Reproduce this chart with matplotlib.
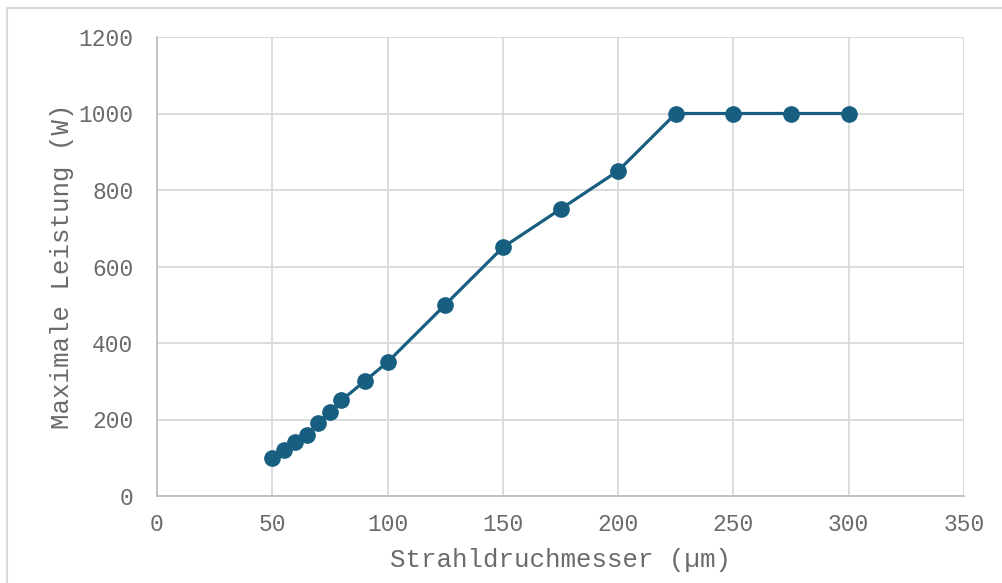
import matplotlib.pyplot as plt
from matplotlib.patches import Rectangle

# Strahldurchmesser (um) and maximale Leistung (W)
durchmesser = [50, 55, 60, 65, 70, 75, 80, 90, 100, 125, 150, 175, 200, 225, 250, 275, 300]
leistung = [100, 120, 140, 160, 190, 220, 250, 300, 350, 500, 650, 750, 850, 1000, 1000, 1000, 1000]

x_ticks = [0, 50, 100, 150, 200, 250, 300, 350]
y_ticks = [0, 200, 400, 600, 800, 1000, 1200]

plt.rcParams['font.family'] = ['Liberation Mono', 'DejaVu Sans']

fig = plt.figure(figsize=(10.03, 5.83), dpi=100)
ax = fig.add_axes([157 / 1003, 1 - 496 / 583, (964 - 157) / 1003, (496 - 37) / 583])

# light frame around the chart like in the Excel export
fig.patches.append(Rectangle((7 / 1003, -0.1), 1.2, 1 - 8 / 583 + 0.1, transform=fig.transFigure,
                             fill=False, edgecolor='#d9d9d9', linewidth=1.5))

ax.plot(durchmesser, leistung, color='#175e80', linewidth=2.3, marker='o',
        markersize=11, markerfacecolor='#175e80', markeredgecolor='#175e80', zorder=3)

ax.set_xlim(0, 350)
ax.set_ylim(0, 1200)
ax.set_xticks(x_ticks)
ax.set_yticks(y_ticks)
ax.grid(True, color='#d9d9d9', linewidth=1.3)
ax.set_axisbelow(True)

for side in ['top', 'right']:
    ax.spines[side].set_visible(False)
for side in ['left', 'bottom']:
    ax.spines[side].set_color('#bfbfbf')
    ax.spines[side].set_linewidth(1.3)

txt = '#6a6a6a'
ax.tick_params(length=0, labelsize=16.5, labelcolor=txt)
ax.tick_params(axis='y', pad=17)
ax.tick_params(axis='x', pad=12)

ax.set_xlabel('Strahldruchmesser (µm)', fontsize=18.5, color=txt, labelpad=9)
ax.set_ylabel('Maximale Leistung (W)', fontsize=18.5, color=txt, labelpad=3)

fig.savefig('out.png', dpi=100)
